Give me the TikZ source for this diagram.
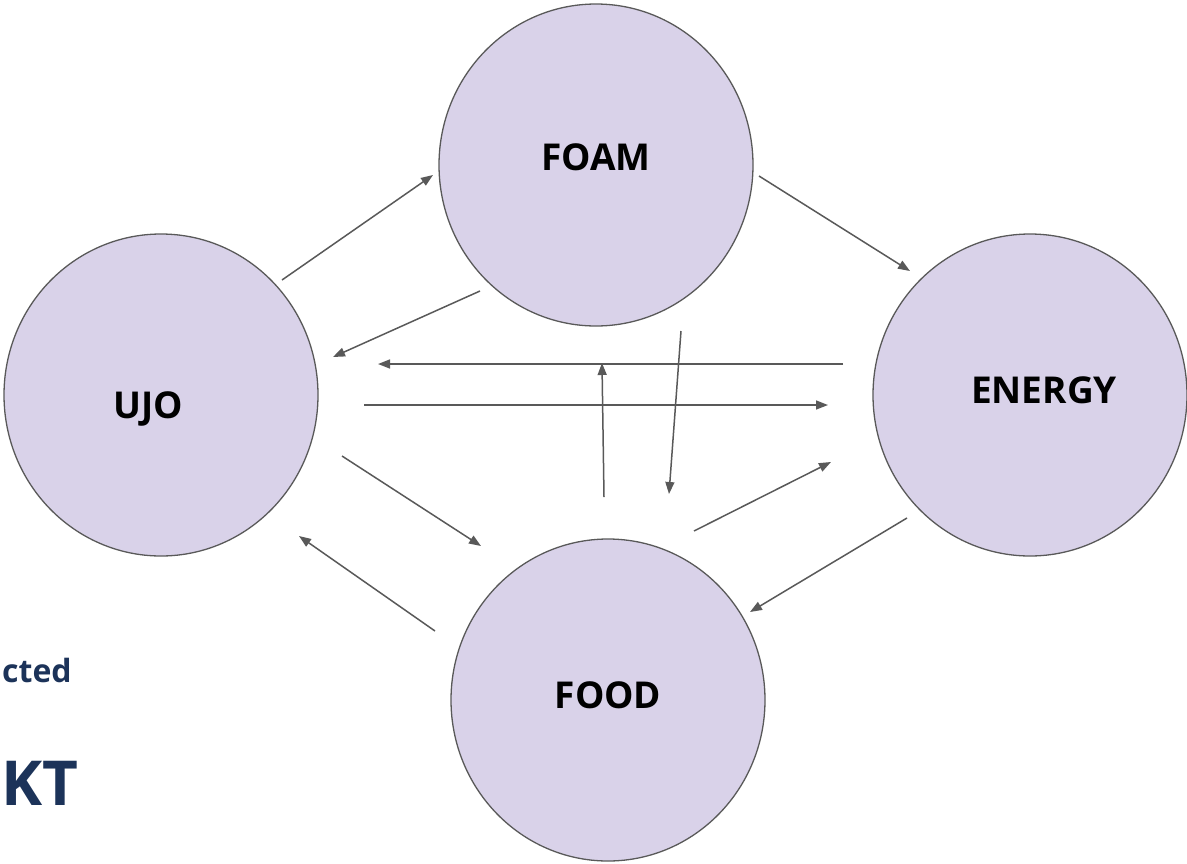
\documentclass[tikz,border=0pt]{standalone}
\usepackage{fontspec}
\setmainfont{Open Sans}
\usetikzlibrary{arrows.meta,shapes.geometric}
\definecolor{bubble}{HTML}{D9D2E9}
\definecolor{edge}{HTML}{595959}
\definecolor{navy}{HTML}{1C3359}
\begin{document}
\begin{tikzpicture}[x=1pt,y=-1pt,
  bubble/.style={ellipse,draw=edge,line width=1.3pt,fill=bubble,minimum width=314pt,minimum height=322pt,inner sep=0pt},
  lbl/.style={font=\fontsize{37}{40}\selectfont\bfseries,text=black,inner sep=0pt},
  conn/.style={draw=edge,line width=1.5pt,-{Triangle[length=12pt,width=9pt]}},
  side/.style={text=navy,inner sep=0pt,font=\bfseries}]
\useasboundingbox (0,0) rectangle (1187,863);
\node[bubble] (foam) at (596,165) {};
\node[bubble] (ujo) at (161,395) {};
\node[bubble] (energy) at (1030,395) {};
\node[bubble] (food) at (608,700) {};
\node[lbl] (tfoam) at (596,157) {FOAM};
\node[lbl] (tujo) at (148,409) {UJO};
\node[lbl] (tenergy) at (1044,390) {ENERGY};
\node[lbl] (tfood) at (608,695) {FOOD};
\node[side,anchor=base west,font=\fontsize{32}{36}\selectfont\bfseries] (cted) at (2,682) {cted};
\begin{scope}
\clip (0,0) rectangle (1187,863);
\node[side,anchor=base east,font=\fontsize{62}{66}\selectfont\bfseries] (kt) at (79,805) {KT};
\end{scope}
% connector endpoints
\coordinate (a1) at (282,280); \coordinate (b1) at (433,175);
\coordinate (a2) at (480,291); \coordinate (b2) at (333,357);
\coordinate (a3) at (759,176); \coordinate (b3) at (910,271);
\coordinate (a4) at (843,364); \coordinate (b4) at (378,364);
\coordinate (a5) at (364,405); \coordinate (b5) at (828,405);
\coordinate (a6) at (604,497); \coordinate (b6) at (602,363);
\coordinate (a7) at (681,331); \coordinate (b7) at (669,494);
\coordinate (a8) at (342,456); \coordinate (b8) at (481,546);
\coordinate (a9) at (435,631); \coordinate (b9) at (299,536);
\coordinate (a10) at (694,531); \coordinate (b10) at (831,462);
\coordinate (a11) at (907,518); \coordinate (b11) at (750,612);
\foreach \i in {1,...,11} {\draw[conn] (a\i) -- (b\i);}
\end{tikzpicture}
\end{document}
